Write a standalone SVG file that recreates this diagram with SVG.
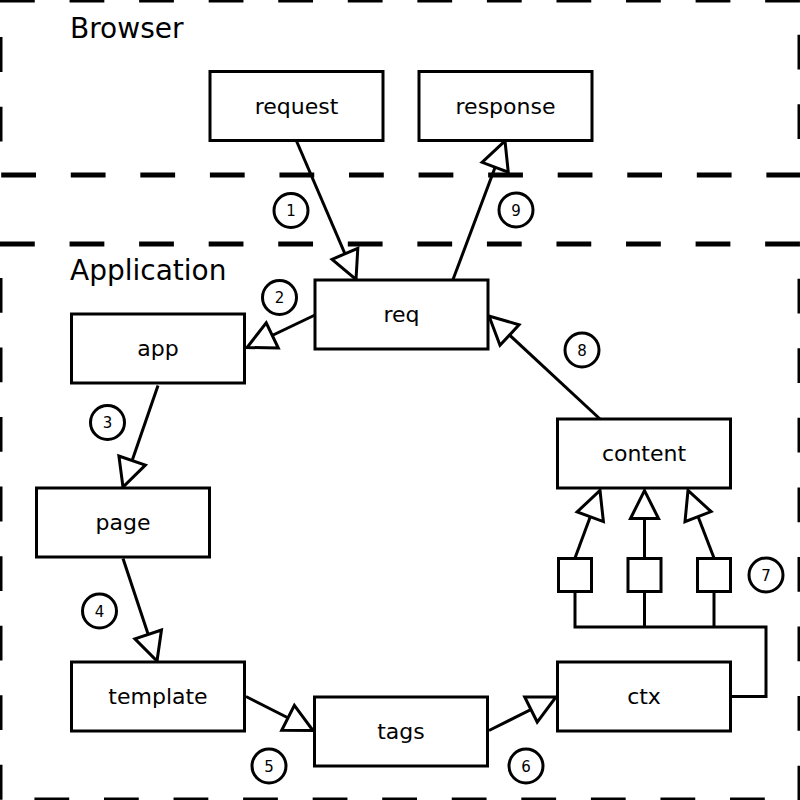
<svg xmlns="http://www.w3.org/2000/svg" width="800" height="800" viewBox="0 0 800 800">
<style>
.zone{fill:none;stroke:#000;stroke-width:5;stroke-dasharray:34.78 34.78}
.box{fill:#fff;stroke:#000;stroke-width:3}
.lbl{font-family:"DejaVu Sans",sans-serif;font-size:22px;text-anchor:middle;fill:#000}
.title{font-family:"DejaVu Sans",sans-serif;font-size:28px;fill:#000}
.num circle{fill:#fff;stroke:#000;stroke-width:3}
.num text{font-family:"DejaVu Sans",sans-serif;font-size:15px;text-anchor:middle;fill:#000}
.edge{fill:none;stroke:#000;stroke-width:3}
.arr{marker-end:url(#ah)}
</style>
<defs>
<marker id="ah" markerUnits="userSpaceOnUse" markerWidth="34" markerHeight="30" refX="31" refY="15" orient="auto" overflow="visible">
<path d="M3,1 L31,15 L3,29 Z" fill="#fff" stroke="#000" stroke-width="3"/>
</marker>
</defs>
<g id="zones">
<rect class="zone" x="0" y="0" width="800" height="175"/>
<rect class="zone" x="0" y="244" width="800" height="556"/>
<text class="title" x="70" y="37.5">Browser</text>
<text class="title" x="70" y="280">Application</text>
</g>
<g id="connectors">
<line class="edge arr" x1="296.5" y1="141" x2="356" y2="279.5"/>
<line class="edge arr" x1="453" y1="279.5" x2="505" y2="141"/>
<line class="edge arr" x1="315" y1="315" x2="247" y2="347.5"/>
<line class="edge arr" x1="158" y1="385.5" x2="123" y2="487"/>
<line class="edge arr" x1="123" y1="558.5" x2="157" y2="661"/>
<line class="edge arr" x1="246" y1="696.5" x2="313" y2="730.5"/>
<line class="edge arr" x1="489" y1="730.5" x2="556" y2="697"/>
<line class="edge arr" x1="600" y1="419" x2="489" y2="316"/>
<line class="edge arr" x1="575" y1="558" x2="600" y2="490.5"/>
<line class="edge arr" x1="644.5" y1="558" x2="644.5" y2="490.5"/>
<line class="edge arr" x1="714" y1="558" x2="688" y2="490.5"/>
<polyline class="edge" points="575,592 575,627 766,627 766,696.5 732,696.5"/>
<line class="edge" x1="644.5" y1="592" x2="644.5" y2="627"/>
<line class="edge" x1="714" y1="592" x2="714" y2="627"/>
</g>
<g id="request"><rect class="box" x="210" y="71.5" width="173" height="69"/><text class="lbl" x="296.5" y="113.5">request</text></g>
<g id="response"><rect class="box" x="419" y="71.5" width="173" height="69"/><text class="lbl" x="505.5" y="113.5">response</text></g>
<g id="req"><rect class="box" x="315" y="280" width="173" height="69"/><text class="lbl" x="401.5" y="321.5">req</text></g>
<g id="app"><rect class="box" x="71.5" y="314" width="173" height="69"/><text class="lbl" x="158" y="356">app</text></g>
<g id="page"><rect class="box" x="36.5" y="488" width="173" height="69"/><text class="lbl" x="123" y="530">page</text></g>
<g id="template"><rect class="box" x="71.5" y="662" width="173" height="69"/><text class="lbl" x="158" y="704">template</text></g>
<g id="tags"><rect class="box" x="314.5" y="697" width="173" height="69"/><text class="lbl" x="401" y="739">tags</text></g>
<g id="ctx"><rect class="box" x="557.5" y="662" width="173" height="69"/><text class="lbl" x="644" y="704">ctx</text></g>
<g id="content"><rect class="box" x="557.5" y="419" width="173" height="69"/><text class="lbl" x="644" y="461">content</text></g>
<g id="sq1"><rect class="box" x="558.5" y="558.5" width="33" height="33"/></g>
<g id="sq2"><rect class="box" x="628" y="558.5" width="33" height="33"/></g>
<g id="sq3"><rect class="box" x="697.5" y="558.5" width="33" height="33"/></g>
<g id="n1" class="num"><circle cx="291" cy="210.5" r="17"/><text x="291" y="216">1</text></g>
<g id="n2" class="num"><circle cx="279.5" cy="297.5" r="17"/><text x="279.5" y="303">2</text></g>
<g id="n3" class="num"><circle cx="107.5" cy="422.5" r="17"/><text x="107.5" y="428">3</text></g>
<g id="n4" class="num"><circle cx="99.5" cy="611" r="17"/><text x="99.5" y="616.5">4</text></g>
<g id="n5" class="num"><circle cx="269" cy="766" r="17"/><text x="269" y="771.5">5</text></g>
<g id="n6" class="num"><circle cx="526" cy="766" r="17"/><text x="526" y="771.5">6</text></g>
<g id="n7" class="num"><circle cx="766" cy="575" r="17"/><text x="766" y="580.5">7</text></g>
<g id="n8" class="num"><circle cx="582" cy="350" r="17"/><text x="582" y="355.5">8</text></g>
<g id="n9" class="num"><circle cx="516" cy="210" r="17"/><text x="516" y="215.5">9</text></g>
</svg>
